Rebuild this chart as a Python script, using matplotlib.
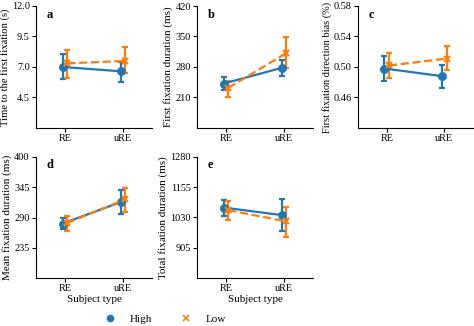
import matplotlib
matplotlib.use("Agg")
import matplotlib.pyplot as plt
from matplotlib.lines import Line2D
import numpy as np

plt.rcParams['font.family'] = ['Liberation Serif', 'DejaVu Serif']

categories = ["RE", "uRE"]
groups = ["High", "Low"]

panel_letters = ["a", "b", "c", "d", "e"]
ylabels = ["Time to the first fixation (s)", "First fixation duration (ms)",
           "First fixation direction bias (%)", "Mean fixation duration (ms)",
           "Total fixation duration (ms)"]
ylims = [(2.0, 12.0), (140, 420), (0.42, 0.58), (180, 400), (780, 1280)]
yticks = [[4.5, 7.0, 9.5, 12.0], [210, 280, 350, 420], [0.46, 0.50, 0.54, 0.58],
          [235, 290, 345, 400], [905, 1030, 1155, 1280]]
ytick_fmt = ["{:.1f}", "{:.0f}", "{:.2f}", "{:.0f}", "{:.0f}"]

# means, lower, upper for High and Low
high_mean = [[7.0, 6.65], [242, 278], [0.498, 0.488], [279, 318], [1071, 1040]]
high_lo = [[6.0, 5.8], [228, 260], [0.481, 0.473], [269, 297], [1037, 973]]
high_hi = [[8.1, 7.45], [257, 295], [0.515, 0.503], [289, 340], [1104, 1105]]
low_mean = [[7.3, 7.5], [232, 312], [0.502, 0.511], [280, 323], [1060, 1014]]
low_lo = [[6.1, 6.5], [210, 278], [0.485, 0.496], [266, 300], [1019, 948]]
low_hi = [[8.4, 8.6], [249, 349], [0.519, 0.527], [293, 343], [1098, 1075]]

blue = "#1f77b4"
orange = "#ff7f0e"

W, H = 474, 326
fig = plt.figure(figsize=(W / 100, H / 100), dpi=100)

boxes = [(36, 6, 116, 122), (197, 6, 116, 122), (358, 6, 115, 122),
         (36, 157, 116, 121), (197, 157, 116, 121)]
label_sizes = [7.6, 8, 7.5, 8, 8]

fs_lab = 8
fs_tick = 7.4
for i, (x0, y0, w, h) in enumerate(boxes):
    ax = fig.add_axes([x0 / W, 1 - (y0 + h) / H, w / W, h / H])
    xs = np.arange(len(categories))
    for mean, lo, hi, col, ls, mk, off in [
        (high_mean[i], high_lo[i], high_hi[i], blue, '-', 'o', -0.04),
        (low_mean[i], low_lo[i], low_hi[i], orange, '--', 'x', 0.04),
    ]:
        m = np.array(mean)
        err = np.vstack([m - np.array(lo), np.array(hi) - m])
        ax.errorbar(xs + off, m, yerr=err, color=col, ls=ls, marker=mk,
                    markersize=4.8, lw=1.6, elinewidth=1.6, capsize=2.5,
                    capthick=1.6, mew=1.6)
    ax.set_xlim(-0.5, 1.5)
    ax.set_ylim(*ylims[i])
    ax.set_yticks(yticks[i])
    ax.set_yticklabels([ytick_fmt[i].format(v) for v in yticks[i]], fontsize=fs_tick)
    ax.set_xticks(xs)
    ax.set_xticklabels(categories, fontsize=fs_tick)
    ax.set_ylabel(ylabels[i], fontsize=label_sizes[i], labelpad=1.5)
    for s in ["top", "right"]:
        ax.spines[s].set_visible(False)
    ax.tick_params(length=3, pad=1.5, width=0.8)
    ax.text(0.09, 0.93, panel_letters[i], transform=ax.transAxes, fontsize=9,
            fontweight='bold', va='center', ha='left')
    if i >= 3:
        ax.set_xlabel("Subject type", fontsize=fs_lab, labelpad=1)

handles = [Line2D([], [], color=blue, marker='o', ls='none', markersize=4.5),
           Line2D([], [], color=orange, marker='x', ls='none', markersize=4, mew=1.2)]
fig.legend(handles, groups, loc='center', bbox_to_anchor=(162.5 / W, 1 - 319 / H),
           ncol=2, frameon=False, fontsize=fs_lab, handletextpad=0.8,
           columnspacing=2.07, handlelength=2.0)

fig.savefig("out.png", dpi=100)
